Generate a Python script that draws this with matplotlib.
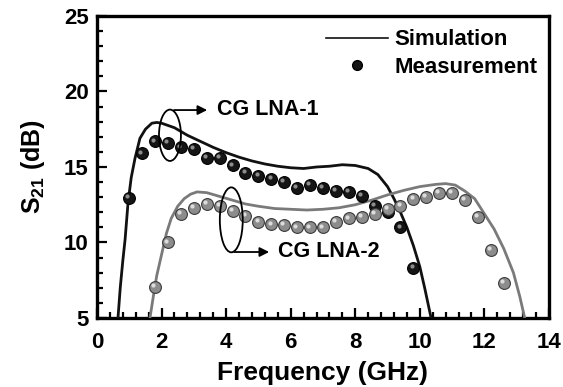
import matplotlib
matplotlib.use("Agg")
from matplotlib import pyplot as plt
from matplotlib.lines import Line2D
from matplotlib.patches import Ellipse
from matplotlib.transforms import offset_copy

plt.rcParams['font.family'] = 'Liberation Sans'
plt.rcParams['font.weight'] = 'bold'
plt.rcParams['mathtext.fontset'] = 'custom'
plt.rcParams['mathtext.rm'] = 'Liberation Sans:bold'
plt.rcParams['mathtext.bf'] = 'Liberation Sans:bold'

# simulated S21 curves (GHz, dB)
sim1_f = [0.65, 0.72, 0.8, 0.87, 0.96, 1.06, 1.18, 1.33, 1.5, 1.7, 1.85, 2.0, 2.4, 2.8,
          3.2, 3.6, 4.0, 4.4, 4.8, 5.2, 5.6, 6.0, 6.4, 6.8, 7.2, 7.6, 8.0, 8.4, 8.7,
          9.0, 9.2, 9.4, 9.6, 9.8, 10.0, 10.15, 10.3, 10.35]
sim1_db = [5.0, 7.0, 8.8, 10.2, 12.6, 14.3, 15.6, 16.9, 17.5, 17.9, 17.95, 17.9, 17.6, 17.1,
           16.7, 16.3, 15.95, 15.65, 15.4, 15.2, 15.05, 14.95, 14.9, 15.0, 15.05, 15.15, 15.1, 14.9, 14.5,
           13.7, 12.9, 12.0, 11.0, 9.8, 8.4, 7.0, 5.5, 5.0]

sim2_f = [1.64, 1.75, 1.85, 2.0, 2.15, 2.3, 2.5, 2.7, 2.9, 3.1, 3.4, 3.8, 4.2, 4.6, 5.0,
          5.5, 6.0, 6.5, 7.0, 7.5, 8.0, 8.5, 9.0, 9.5, 10.0, 10.5, 10.8, 11.1, 11.4,
          11.7, 12.0, 12.3, 12.6, 12.9, 13.1, 13.25]
sim2_db = [5.0, 6.5, 7.8, 9.2, 10.6, 11.6, 12.4, 12.9, 13.2, 13.35, 13.3, 13.05, 12.8, 12.55, 12.4,
           12.25, 12.2, 12.15, 12.2, 12.3, 12.5, 12.8, 13.15, 13.45, 13.7, 13.85, 13.9, 13.8, 13.4,
           12.9, 11.9, 10.9, 9.6, 8.0, 6.4, 5.0]

# measured S21 points
meas1_f = [1.0, 1.4, 1.8, 2.2, 2.6, 3.0, 3.4, 3.8, 4.2, 4.6, 5.0, 5.4, 5.8, 6.2, 6.6,
           7.0, 7.4, 7.8, 8.2, 8.6, 9.0, 9.4, 9.8]
meas1_db = [12.95, 15.9, 16.7, 16.6, 16.3, 16.2, 15.6, 15.6, 15.1, 14.6, 14.4, 14.2, 14.0, 13.6, 13.8,
            13.6, 13.4, 13.35, 13.1, 12.4, 12.0, 11.0, 8.3]

meas2_f = [1.8, 2.2, 2.6, 3.0, 3.4, 3.8, 4.2, 4.6, 5.0, 5.4, 5.8, 6.2, 6.6, 7.0, 7.4,
           7.8, 8.2, 8.6, 9.0, 9.4, 9.8, 10.2, 10.6, 11.0, 11.4, 11.8, 12.2, 12.6]
meas2_db = [7.05, 10.0, 11.9, 12.3, 12.55, 12.4, 12.1, 11.75, 11.35, 11.2, 11.15, 11.0, 11.0, 11.0, 11.35,
            11.6, 11.7, 11.9, 12.2, 12.4, 12.9, 13.0, 13.3, 13.3, 12.8, 11.7, 9.5, 7.3]

fig = plt.figure(figsize=(5.63, 3.87), dpi=100)
ax = fig.add_axes([0.1723, 0.1783, 0.8027, 0.7804])

ax.plot(sim1_f, sim1_db, color='#111111', lw=2.0, zorder=3)
ax.plot(sim2_f, sim2_db, color='#7a7a7a', lw=2.0, zorder=3)


def balls(f, db, base, shine, edge):
    # shaded sphere: dark disc plus a small offset highlight
    ax.plot(f, db, 'o', ms=8.5, mfc=base, mec=edge, mew=0.8, zorder=4)
    hi = offset_copy(ax.transData, fig=fig, x=-1.3, y=1.3, units='points')
    ax.plot(f, db, 'o', ms=3.0, mfc=shine, mec='none', alpha=0.9, transform=hi, zorder=5)


balls(meas1_f, meas1_db, '#151515', '#9a9a9a', '#000000')
balls(meas2_f, meas2_db, '#8c8c8c', '#e6e6e6', '#3a3a3a')

# group markers with arrows and labels
ax.add_patch(Ellipse((2.26, 17.1), 0.68, 3.4, fill=False, lw=1.3, ec='black', zorder=6))
ax.annotate('', xy=(3.5, 18.77), xytext=(2.3, 18.77),
            arrowprops=dict(arrowstyle='-|>', color='black', lw=1.3, mutation_scale=14))
ax.text(3.72, 18.8, 'CG LNA-1', fontsize=15.5, fontweight='bold', va='center', ha='left')

ax.add_patch(Ellipse((4.16, 11.5), 0.71, 4.3, fill=False, lw=1.3, ec='black', zorder=6))
ax.annotate('', xy=(5.42, 9.37), xytext=(4.16, 9.37),
            arrowprops=dict(arrowstyle='-|>', color='black', lw=1.3, mutation_scale=14))
ax.text(5.6, 9.4, 'CG LNA-2', fontsize=15.5, fontweight='bold', va='center', ha='left')

handles = [Line2D([], [], color='#111111', lw=1.2),
           Line2D([], [], ls='none', marker='o', ms=7, mfc='#151515', mec='black')]
ax.legend(handles, ['Simulation', 'Measurement'], loc='upper right', frameon=False,
          fontsize=16, handlelength=2.8, handletextpad=0.3, labelspacing=0.3,
          borderaxespad=0.0, bbox_to_anchor=(0.995, 0.985))

ax.set_xlim(0, 14)
ax.set_ylim(5, 25)
ax.set_xticks(range(0, 15, 2))
ax.set_yticks(range(5, 26, 5))
ax.set_xticks([i * 0.4 for i in range(36)], minor=True)
ax.set_yticks(range(5, 26), minor=True)
ax.tick_params(which='both', direction='in', labelsize=16, width=1.6)
ax.tick_params(which='major', length=7, pad=6)
ax.tick_params(which='minor', length=4)
ax.tick_params(axis='x', which='major', pad=10)
for lbl in ax.get_xticklabels() + ax.get_yticklabels():
    lbl.set_fontweight('bold')
for s in ax.spines.values():
    s.set_linewidth(2.4)

ax.set_xlabel('Frequency (GHz)', fontsize=19, fontweight='bold', labelpad=6)
ax.set_ylabel(r'S$_{\mathbf{21}}$ (dB)', fontsize=18, fontweight='bold', labelpad=12)

fig.savefig('out.png', dpi=100)
